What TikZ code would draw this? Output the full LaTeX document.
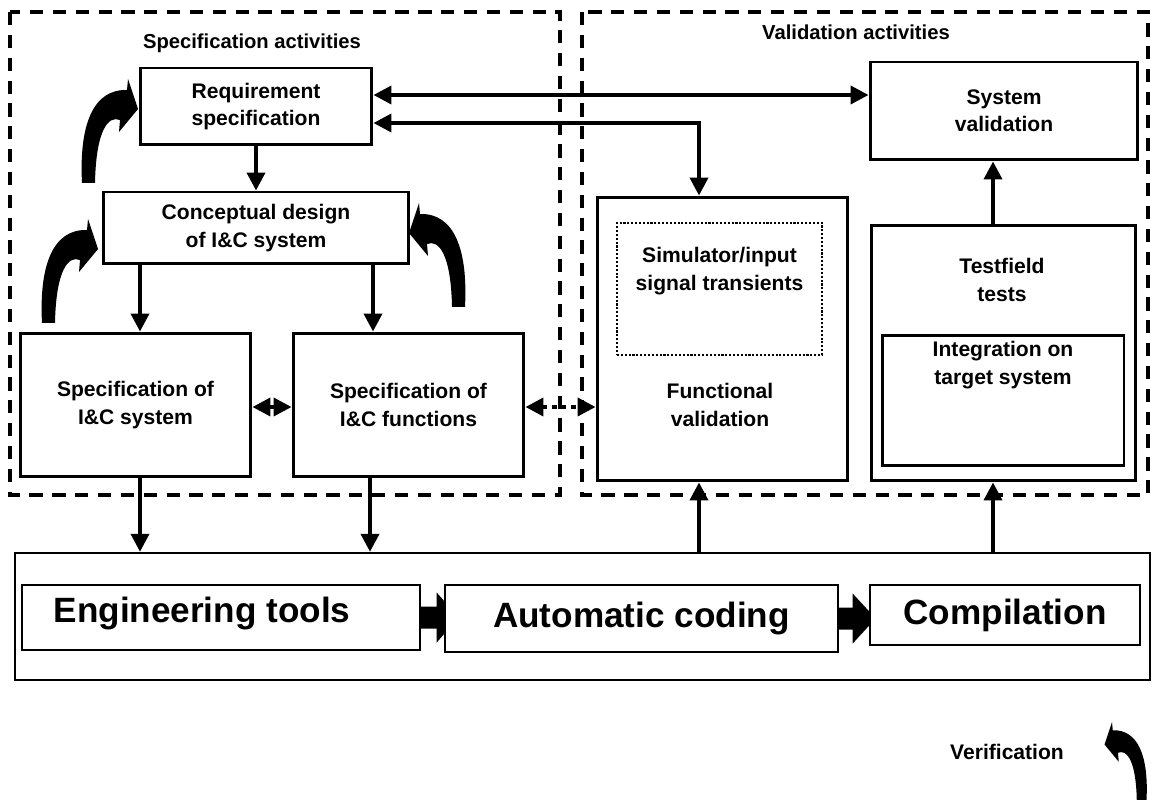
\documentclass[tikz,border=0pt]{standalone}
\usepackage{fontspec}
\setmainfont{Liberation Sans}
\usetikzlibrary{arrows.meta,calc,backgrounds}

\newcommand{\boxfont}{\bfseries\fontsize{12}{15.5}\selectfont}
\newcommand{\toolfont}{\bfseries\fontsize{20}{24}\selectfont}

\tikzset{
  region/.style={line width=2.3pt, dash pattern=on 7.5pt off 5.5pt},
  areahead/.style={font=\bfseries\fontsize{11.5}{14}\selectfont, inner sep=0pt},
  box/.style={draw, line width=1.7pt, fill=white, inner sep=0pt, align=center, font=\boxfont},
  simbox/.style={draw, line width=1.2pt, dash pattern=on 1.2pt off 1pt, inner sep=0pt},
  txt/.style={inner sep=0pt, align=center, font=\boxfont},
  toolrow/.style={draw, line width=1.4pt, inner sep=0pt},
  tool/.style={draw, line width=0.8pt, fill=white, inner sep=0pt, font=\toolfont},
  bigtxt/.style={inner sep=0pt, font=\toolfont},
  verifytxt/.style={inner sep=0pt, font=\bfseries\fontsize{12}{14}\selectfont},
  arr/.style={line width=2.2pt, -{Triangle[length=0.36cm,width=0.36cm]}},
  darr/.style={line width=2.2pt, {Triangle[length=0.36cm,width=0.36cm]}-{Triangle[length=0.36cm,width=0.36cm]}},
  dotarr/.style={darr, dash pattern=on 2.5pt off 3pt},
  pics/curvarr/.style={code={
    \fill (-6,0) .. controls (-9,-58) and (5,-94) .. (39,-93) -- (40,-104) -- (50,-74)
      -- (31,-51) -- (32,-63) .. controls (20,-68) and (8,-52) .. (7,0) -- cycle;
  }}
}

\begin{document}
\begin{tikzpicture}[x=0.02cm, y=-0.02cm]
    \useasboundingbox (0,0) rectangle (1152,800);

    % activity regions
    \draw[region] (10,12) rectangle (560,495);
    \draw[region] (582,12) rectangle (1148,495);
    \node[areahead] (spechead) at (252,43) {Specification activities};
    \node[areahead] (valhead) at (856,32) {Validation activities};

    % specification side
    \node[box, minimum width=4.64cm, minimum height=1.54cm] (req) at (256,106.5) {Requirement\\specification};
    \node[box, minimum width=6.12cm, minimum height=1.44cm] (concept) at (256,228) {Conceptual design\\of I\&C system};
    \node[box, minimum width=4.62cm, minimum height=2.88cm] (specsys) at (135.5,405) {Specification of\\I\&C system};
    \node[box, minimum width=4.62cm, minimum height=2.88cm] (specfun) at (408.5,405) {Specification of\\I\&C functions};

    % validation side
    \node[box, minimum width=5.36cm, minimum height=1.96cm] (sysval) at (1004,111) {System\\validation};
    \node[box, minimum width=5.02cm, minimum height=5.68cm] (funcval) at (722.5,339) {};
    \node[simbox, minimum width=4.1cm, minimum height=2.64cm] (sim) at (719.5,289) {};
    \node[txt] (simtxt) at (719.5,271) {Simulator/input\\signal transients};
    \node[txt] (funcvaltxt) at (720,405) {Functional\\validation};
    \node[box, minimum width=5.3cm, minimum height=5.12cm] (test) at (1003.5,353) {};
    \node[txt] (testtxt) at (1002,280) {Testfield\\tests};
    \node[box, minimum width=4.84cm, minimum height=2.62cm] (integ) at (1003,400.5) {};
    \node[txt] (integtxt) at (1003,365) {Integration on\\target system};

    % tool chain
    \node[toolrow, minimum width=22.7cm, minimum height=2.54cm] (tools) at (582.5,616.5) {};
    \node[tool, minimum width=7.96cm, minimum height=1.3cm] (eng) at (221,617.5) {};
    \node[bigtxt] (engtxt) at (202,613) {Engineering tools};
    \node[tool, minimum width=7.86cm, minimum height=1.34cm] (auto) at (641.5,618.5) {Automatic coding};
    \node[tool, minimum width=5.4cm, minimum height=1.2cm] (comp) at (1005,615) {Compilation};
    \begin{scope}[on background layer]
        \fill ($(eng.east)+(0,-11)$) -- ++(16,0) -- ++(0,-14) -- ++(22,25) -- ++(-22,25) -- ++(0,-14) -- ++(-16,0) -- cycle;
        \fill ($(auto.east)+(0,-11)$) -- ++(14,0) -- ++(0,-14) -- ++(23,25) -- ++(-23,25) -- ++(0,-14) -- ++(-14,0) -- cycle;
    \end{scope}

    % connectors
    \coordinate (x140) at (140,0);
    \coordinate (x370) at (370,0);
    \coordinate (x373) at (373,0);
    \coordinate (x699) at (699,0);
    \coordinate (x993) at (993,0);
    \coordinate (y95) at (0,95);
    \coordinate (y123) at (0,123);
    \coordinate (y407) at (0,407);
    \draw[arr] (req) -- (concept);
    \draw[arr] (concept.south -| x140) -- (specsys.north -| x140);
    \draw[arr] (concept.south -| x373) -- (specfun.north -| x373);
    \draw[darr] (specsys.east |- y407) -- (specfun.west |- y407);
    \draw[dotarr] (specfun.east |- y407) -- (funcval.west |- y407);
    \draw[darr] (req.east |- y95) -- (sysval.west |- y95);
    \draw[darr] (req.east |- y123) -| (funcval.north -| x699);
    \draw[arr] (test.north -| x993) -- (sysval.south -| x993);
    \draw[arr] (specsys.south -| x140) -- (tools.north -| x140);
    \draw[arr] (specfun.south -| x370) -- (tools.north -| x370);
    \draw[arr] (tools.north -| x699) -- (funcval.south -| x699);
    \draw[arr] (tools.north -| x993) -- (test.south -| x993);

    % iteration arrows
    \pic at (88,183) {curvarr};
    \pic at (48,323) {curvarr};
    \pic[xscale=-1] at (459,307) {curvarr};
    \pic[xscale=-0.75, yscale=0.75] at (1142,800) {curvarr};
    \node[verifytxt] (verif) at (1007,752) {Verification};
\end{tikzpicture}
\end{document}
